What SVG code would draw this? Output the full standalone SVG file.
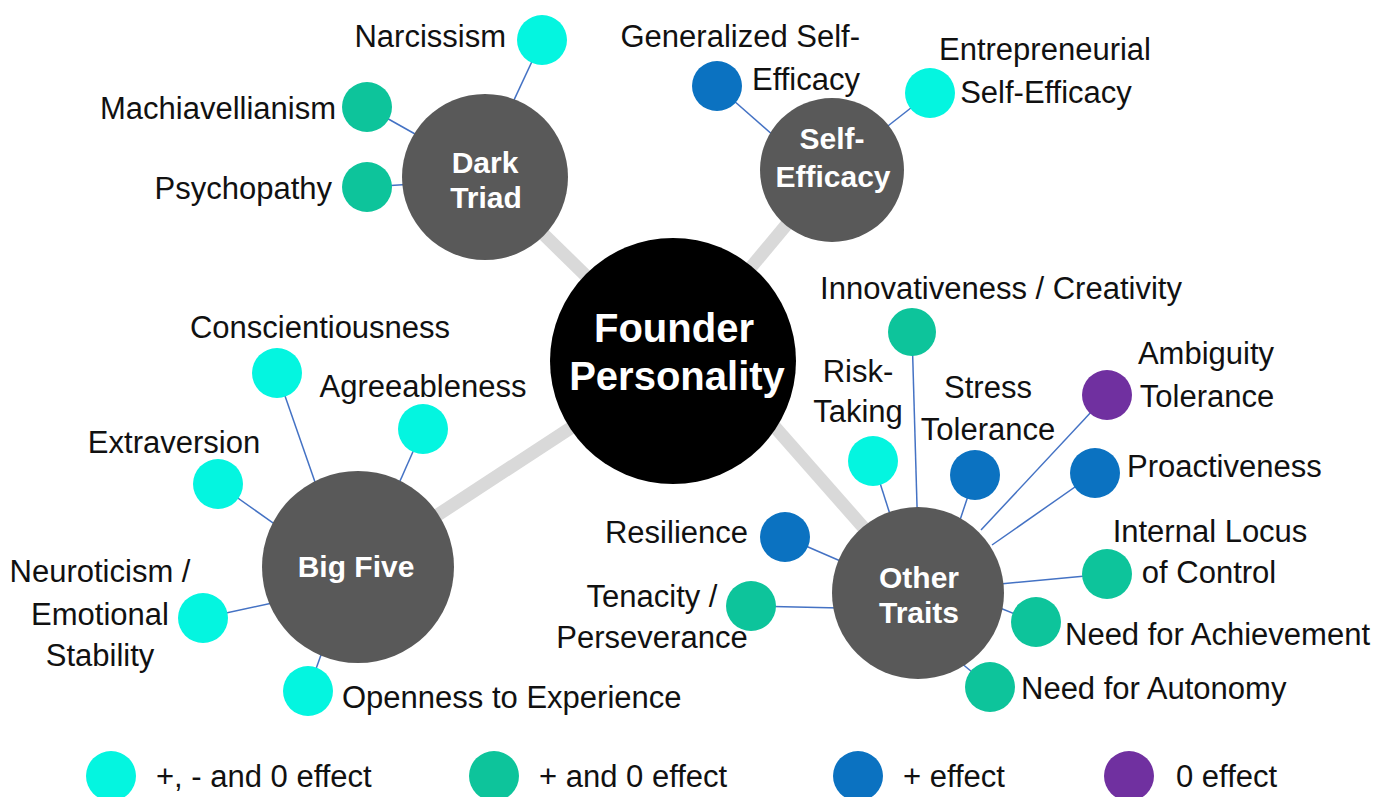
<svg xmlns="http://www.w3.org/2000/svg" width="1391" height="797" viewBox="0 0 1391 797">
<style>
text{font-family:"Liberation Sans",Arial,sans-serif;}
.lbl{font-size:31px;fill:#111;}
.hub{fill:#595959;}
.hubt{font-size:30px;font-weight:bold;fill:#fff;text-anchor:middle;}
.link{stroke:#D9D9D9;stroke-width:13;stroke-linecap:butt;}
.leafl{stroke:#4472C4;stroke-width:1.5;}
.c1{fill:#04F5E0;}
.c2{fill:#0DC49B;}
.c3{fill:#0B72C1;}
.c4{fill:#7030A0;}
.mid{text-anchor:middle;}
.end{text-anchor:end;}
</style>
<rect width="1391" height="797" fill="#fff"/>
<g id="connectors">
<line class="link" x1="673" y1="361" x2="485" y2="177"/>
<line class="link" x1="673" y1="361" x2="832" y2="170"/>
<line class="link" x1="673" y1="361" x2="358" y2="567"/>
<line class="link" x1="745" y1="393" x2="885" y2="552"/>
<line class="leafl" x1="542" y1="40" x2="500" y2="130"/>
<line class="leafl" x1="367" y1="107" x2="440" y2="148"/>
<line class="leafl" x1="367" y1="187" x2="430" y2="183"/>
<line class="leafl" x1="717" y1="86" x2="790" y2="150"/>
<line class="leafl" x1="930" y1="93" x2="870" y2="140"/>
<line class="leafl" x1="277" y1="373" x2="330" y2="525"/>
<line class="leafl" x1="423" y1="429" x2="385" y2="515"/>
<line class="leafl" x1="218" y1="484" x2="300" y2="542"/>
<line class="leafl" x1="203" y1="618" x2="300" y2="597"/>
<line class="leafl" x1="308" y1="691" x2="330" y2="630"/>
<line class="leafl" x1="912" y1="332" x2="918" y2="540"/>
<line class="leafl" x1="873" y1="461" x2="895" y2="530"/>
<line class="leafl" x1="975" y1="475" x2="955" y2="535"/>
<line class="leafl" x1="1107" y1="395" x2="981" y2="530"/>
<line class="leafl" x1="1095" y1="473" x2="992" y2="545"/>
<line class="leafl" x1="1107" y1="574" x2="1000" y2="584"/>
<line class="leafl" x1="1035" y1="622" x2="1000" y2="608"/>
<line class="leafl" x1="990" y1="687" x2="960" y2="662"/>
<line class="leafl" x1="785" y1="537" x2="845" y2="563"/>
<line class="leafl" x1="751" y1="606" x2="840" y2="608"/>
</g>
<g id="founder">
<circle cx="673" cy="361" r="123" fill="#000"/>
<text x="674" y="342" font-size="40" font-weight="bold" fill="#fff" text-anchor="middle">Founder</text>
<text x="677" y="390" font-size="40" font-weight="bold" fill="#fff" text-anchor="middle">Personality</text>
</g>
<g id="dark-triad">
<circle class="hub" cx="485" cy="177" r="83"/>
<text class="hubt" x="485" y="173">Dark</text>
<text class="hubt" x="486" y="208">Triad</text>
</g>
<g id="self-efficacy">
<circle class="hub" cx="832" cy="170" r="72"/>
<text class="hubt" x="832" y="149">Self-</text>
<text class="hubt" x="833" y="187">Efficacy</text>
</g>
<g id="big-five">
<circle class="hub" cx="358" cy="567" r="96"/>
<text class="hubt" x="356" y="577">Big Five</text>
</g>
<g id="other-traits">
<circle class="hub" cx="918" cy="593" r="86"/>
<text class="hubt" x="919" y="588">Other</text>
<text class="hubt" x="919" y="623">Traits</text>
</g>
<g id="narcissism"><circle class="c1" cx="542" cy="40" r="25"/><text class="lbl end" x="506" y="47">Narcissism</text></g>
<g id="machiavellianism"><circle class="c2" cx="367" cy="107" r="25"/><text class="lbl end" x="336" y="119">Machiavellianism</text></g>
<g id="psychopathy"><circle class="c2" cx="367" cy="187" r="25"/><text class="lbl end" x="332" y="199">Psychopathy</text></g>
<g id="generalized-self-efficacy"><circle class="c3" cx="717" cy="86" r="25"/><text class="lbl end" x="860" y="47">Generalized Self-</text><text class="lbl end" x="860" y="90">Efficacy</text></g>
<g id="entrepreneurial-self-efficacy"><circle class="c1" cx="930" cy="93" r="25"/><text class="lbl mid" x="1045" y="60">Entrepreneurial</text><text class="lbl mid" x="1046" y="103">Self-Efficacy</text></g>
<g id="conscientiousness"><circle class="c1" cx="277" cy="373" r="25"/><text class="lbl mid" x="320" y="338">Conscientiousness</text></g>
<g id="agreeableness"><circle class="c1" cx="423" cy="429" r="25"/><text class="lbl mid" x="423" y="397">Agreeableness</text></g>
<g id="extraversion"><circle class="c1" cx="218" cy="484" r="25"/><text class="lbl mid" x="174" y="453">Extraversion</text></g>
<g id="neuroticism"><circle class="c1" cx="203" cy="618" r="25"/><text class="lbl mid" x="100" y="582">Neuroticism /</text><text class="lbl mid" x="100" y="625">Emotional</text><text class="lbl mid" x="100" y="666">Stability</text></g>
<g id="openness"><circle class="c1" cx="308" cy="691" r="25"/><text class="lbl" x="342" y="708">Openness to Experience</text></g>
<g id="innovativeness"><circle class="c2" cx="912" cy="332" r="24"/><text class="lbl mid" x="1001" y="299">Innovativeness / Creativity</text></g>
<g id="risk-taking"><circle class="c1" cx="873" cy="461" r="25"/><text class="lbl mid" x="858" y="382">Risk-</text><text class="lbl mid" x="858" y="422">Taking</text></g>
<g id="stress-tolerance"><circle class="c3" cx="975" cy="475" r="25"/><text class="lbl mid" x="988" y="398">Stress</text><text class="lbl mid" x="988" y="440">Tolerance</text></g>
<g id="ambiguity-tolerance"><circle class="c4" cx="1107" cy="395" r="25"/><text class="lbl mid" x="1206" y="364">Ambiguity</text><text class="lbl mid" x="1207" y="407">Tolerance</text></g>
<g id="proactiveness"><circle class="c3" cx="1095" cy="473" r="25"/><text class="lbl" x="1127" y="477">Proactiveness</text></g>
<g id="internal-locus"><circle class="c2" cx="1107" cy="574" r="25"/><text class="lbl mid" x="1210" y="542">Internal Locus</text><text class="lbl mid" x="1209" y="583">of Control</text></g>
<g id="need-achievement"><circle class="c2" cx="1036" cy="622" r="25"/><text class="lbl" x="1065" y="645">Need for Achievement</text></g>
<g id="need-autonomy"><circle class="c2" cx="990" cy="687" r="25"/><text class="lbl" x="1021" y="699">Need for Autonomy</text></g>
<g id="resilience"><circle class="c3" cx="785" cy="537" r="25"/><text class="lbl end" x="748" y="543">Resilience</text></g>
<g id="tenacity"><circle class="c2" cx="751" cy="606" r="25"/><text class="lbl mid" x="652" y="607">Tenacity /</text><text class="lbl mid" x="652" y="648">Perseverance</text></g>
<g id="legend">
<circle class="c1" cx="111" cy="776" r="25"/><text class="lbl" x="156" y="787">+, - and 0 effect</text>
<circle class="c2" cx="494" cy="776" r="25"/><text class="lbl" x="539" y="787">+ and 0 effect</text>
<circle class="c3" cx="858" cy="776" r="25"/><text class="lbl" x="903" y="787">+ effect</text>
<circle class="c4" cx="1129" cy="776" r="25"/><text class="lbl" x="1176" y="787">0 effect</text>
</g>
</svg>
